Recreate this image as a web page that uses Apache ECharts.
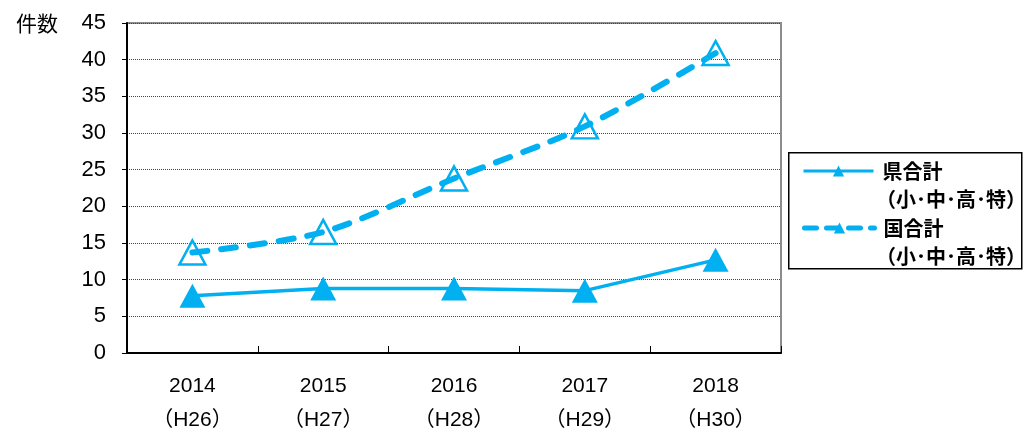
<!DOCTYPE html>
<html>
<head>
<meta charset="utf-8">
<script src="https://cdn.jsdelivr.net/npm/echarts@6/dist/echarts.min.js"></script>
<style>
  html, body { margin: 0; padding: 0; background: #fff; }
  #chart { width: 1024px; height: 435px; }
</style>
</head>
<body>
<div id="chart"></div>
<script>
// 年度と和暦
const years = ["2014", "2015", "2016", "2017", "2018"];
const eras = ["H26", "H27", "H28", "H29", "H30"];
const categories = years.map((y, i) => y + "\n（" + eras[i] + "）");

// 件数
const kenTotal = [7.8, 8.8, 8.8, 8.5, 12.7];      // 県合計
const kuniTotal = [13.7, 16.5, 23.8, 30.9, 40.9]; // 国合計

const seriesNames = ["県合計", "国合計"];
const subLabel = "（小･中･高･特）";

const yTicks = { min: 0, max: 45, interval: 5 };

const blue = "#00B0F0";
const jpFont = "'Noto Sans CJK JP', sans-serif";
const numFont = "'Liberation Sans', 'Noto Sans CJK JP', sans-serif";

const myChart = echarts.init(document.getElementById("chart"));

// 凡例の共通設定
const legendText = {
  fontFamily: jpFont,
  fontWeight: "bold",
  fontSize: 20,
  lineHeight: 22,
  color: "#000",
  padding: [0, 0, 0, 4]
};

const option = {
  animation: false,
  backgroundColor: "#fff",
  grid: {
    left: 127,
    top: 23,
    width: 654,
    height: 330,
    containLabel: false,
    outerBoundsMode: "none",
    show: true,
    borderColor: "#8c8c8c",
    borderWidth: 2,
    backgroundColor: "#fff"
  },
  legend: [
    {
      left: 802,
      top: 160,
      itemWidth: 70,
      itemHeight: 14,
      padding: 0,
      data: [{ name: seriesNames[0], itemStyle: { color: blue }, lineStyle: { width: 3 } }],
      textStyle: legendText
    },
    {
      left: 802,
      top: 217,
      itemWidth: 70,
      itemHeight: 14,
      padding: 0,
      data: [{ name: seriesNames[1], itemStyle: { color: blue, borderWidth: 0 }, lineStyle: { width: 5, type: [12, 10] } }],
      textStyle: legendText
    }
  ],
  xAxis: {
    type: "category",
    data: categories,
    boundaryGap: true,
    axisLine: { lineStyle: { color: "#000", width: 2 } },
    axisTick: { show: true, inside: true, length: 7, lineStyle: { color: "#000", width: 1 } },
    axisLabel: {
      margin: 16,
      fontFamily: numFont,
      fontSize: 21,
      lineHeight: 34,
      color: "#000"
    }
  },
  yAxis: {
    type: "value",
    min: yTicks.min,
    max: yTicks.max,
    interval: yTicks.interval,
    name: "件数",
    nameLocation: "end",
    nameGap: 0,
    nameTextStyle: {
      fontFamily: jpFont,
      fontSize: 21,
      color: "#000",
      align: "right",
      verticalAlign: "middle",
      padding: [0, 69, 0, 0]
    },
    axisLine: { show: true, lineStyle: { color: "#000", width: 2 } },
    axisTick: { show: true, length: 5, lineStyle: { color: "#000" } },
    axisLabel: {
      margin: 21,
      fontFamily: numFont,
      fontSize: 22,
      color: "#000"
    },
    splitLine: {
      show: true,
      lineStyle: { color: "#444", type: [1, 1], width: 1 }
    }
  },
  graphic: [
    {
      type: "rect",
      left: 788,
      top: 152,
      shape: { width: 233, height: 116 },
      style: { fill: "#fff", stroke: "#000", lineWidth: 1.5 },
      z: -1
    },
    {
      type: "text",
      left: 876,
      top: 189,
      style: { text: subLabel, font: "bold 20px " + jpFont, fill: "#000" }
    },
    {
      type: "text",
      left: 876,
      top: 246,
      style: { text: subLabel, font: "bold 20px " + jpFont, fill: "#000" }
    }
  ],
  series: [
    {
      name: seriesNames[0],
      type: "line",
      data: kenTotal,
      symbol: "triangle",
      symbolSize: [26, 24],
      lineStyle: { color: blue, width: 3.5 },
      itemStyle: { color: blue }
    },
    {
      name: seriesNames[1],
      type: "line",
      data: kuniTotal,
      smooth: 0.3,
      symbol: "triangle",
      symbolSize: [26, 24],
      lineStyle: { color: blue, width: 6, type: [15, 14], cap: "round" },
      itemStyle: { color: "rgba(255,255,255,0)", borderColor: blue, borderWidth: 2.5 }
    }
  ]
};

myChart.setOption(option);
</script>
</body>
</html>
